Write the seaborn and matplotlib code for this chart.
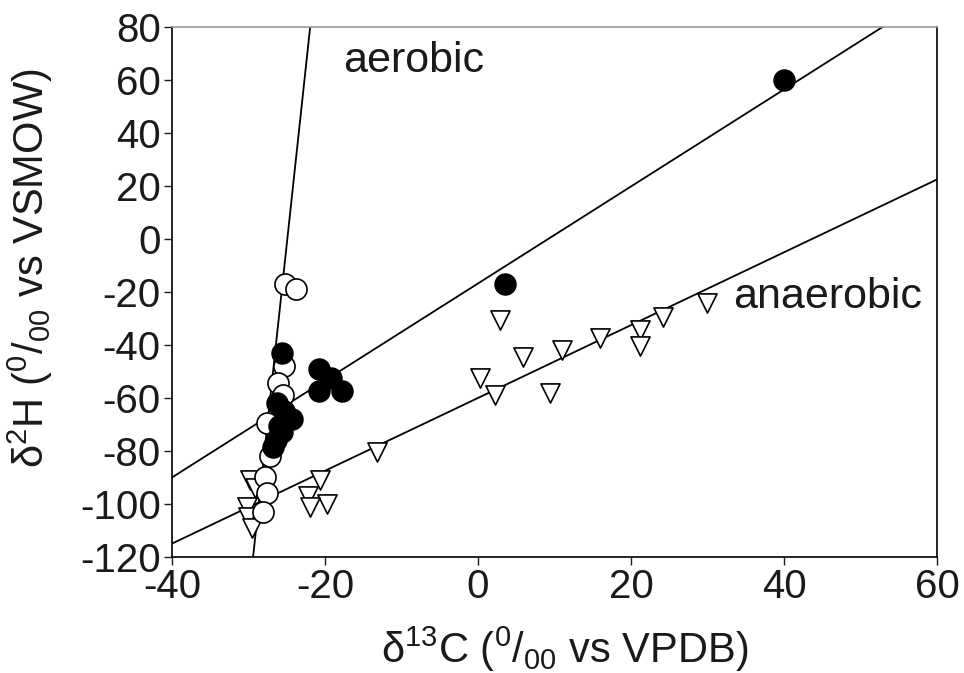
import numpy as np
import pandas as pd
import matplotlib
matplotlib.use("Agg")
import matplotlib.pyplot as plt
import seaborn as sns

# --- data ---
filled_x = [40.0, 3.5, -20.8, -19.2, -20.8, -17.8, -25.6, -26.3, -25.4, -24.3, -26.0, -25.6, -26.4, -26.8]
filled_y = [60.0, -17.0, -49.0, -52.5, -57.5, -57.5, -43.0, -62.0, -65.0, -68.0, -70.5, -73.0, -76.0, -78.5]

open_x = [-25.2, -23.8, -25.3, -26.1, -25.5, -27.6, -27.2, -27.9, -27.6, -28.1]
open_y = [-17.0, -19.0, -48.0, -54.5, -59.0, -69.5, -82.0, -90.0, -96.0, -103.0]

tri_x = [-29.8, -29.2, -30.2, -30.0, -29.6, -20.7, -22.2, -19.7, -22.0, -13.2,
         2.9, 5.9, 0.3, 2.2, 9.4, 11.0, 16.0, 21.2, 21.2, 24.2, 29.9]
tri_y = [-91.0, -94.0, -101.0, -105.0, -109.0, -91.0, -97.0, -100.0, -101.0, -80.5,
         -30.5, -44.5, -52.5, -59.0, -58.0, -42.0, -37.5, -34.5, -40.5, -29.5, -24.0]

line_names = ["aerobic", "combined", "anaerobic"]
line_slopes = [26.8, 1.83, 1.374]
line_intercepts = [667.9, -16.8, -60.0]

x_ticks = [-40, -20, 0, 20, 40, 60]
y_ticks = [80, 60, 40, 20, 0, -20, -40, -60, -80, -100, -120]

sns.set_theme(style="white")
plt.rcParams['font.family'] = ['Liberation Sans', 'DejaVu Sans']
plt.rcParams['mathtext.fontset'] = 'custom'
plt.rcParams['mathtext.rm'] = 'Liberation Sans'
plt.rcParams['axes.unicode_minus'] = False
plt.rcParams['text.color'] = '#1a1a1a'
plt.rcParams['axes.labelcolor'] = '#1a1a1a'
plt.rcParams['xtick.color'] = '#1a1a1a'
plt.rcParams['ytick.color'] = '#1a1a1a'

fig = plt.figure(figsize=(9.64, 6.73), dpi=100)
ax = fig.add_axes([0.1784, 0.1724, 0.7936, 0.7876])

# regression lines
xr = np.array([-40.0, 60.0])
for name, m, b in zip(line_names, line_slopes, line_intercepts):
    df = pd.DataFrame({"x": xr, "y": m * xr + b})
    sns.lineplot(data=df, x="x", y="y", ax=ax, color="black", linewidth=1.3,
                 estimator=None, sort=False, legend=False)

sns.scatterplot(x=tri_x, y=tri_y, ax=ax, marker="v", s=190, facecolor="white",
                edgecolor="black", linewidth=1.2, zorder=3)
sns.scatterplot(x=open_x, y=open_y, ax=ax, marker="o", s=230, facecolor="white",
                edgecolor="black", linewidth=1.2, zorder=4)
sns.scatterplot(x=filled_x, y=filled_y, ax=ax, marker="o", s=230, facecolor="black",
                edgecolor="black", linewidth=1.0, zorder=5)

ax.set_xlim(-40, 60)
ax.set_ylim(-120, 80)
ax.set_xticks(x_ticks)
ax.set_yticks(y_ticks)
ax.tick_params(axis="both", labelsize=29, length=6, width=1, direction="out",
               pad=2, bottom=True, left=True)
for sp in ax.spines.values():
    sp.set_visible(True)
    sp.set_color("black")
    sp.set_linewidth(1.2)
ax.spines["top"].set_color("#999999")

ax.set_xlabel(r"δ$^{13}$C ($^{0}$/$_{00}$ vs VPDB)", fontsize=30)
ax.set_ylabel(r"δ$^{2}$H ($^{0}$/$_{00}$ vs VSMOW)", fontsize=30)
ax.xaxis.set_label_coords(0.513, -0.128)
ax.yaxis.set_label_coords(-0.153, 0.545)

ax.text(-17.6, 67, "aerobic", fontsize=31, ha="left", va="center")
ax.text(33.4, -22, "anaerobic", fontsize=31, ha="left", va="center")

fig.savefig("out.png", dpi=100)
